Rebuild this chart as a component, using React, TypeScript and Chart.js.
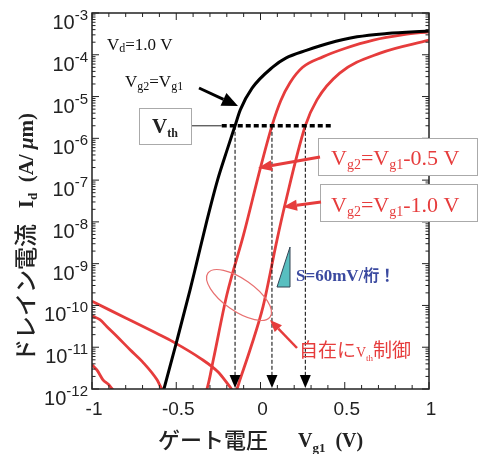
import React, { useEffect, useRef } from "react";
import { Chart, registerables } from "chart.js";

Chart.register(...registerables);

// ---- data: gate voltage Vg1 (V) and log10 of drain current Id (A/um) ----
const blackVg = [-0.6, -0.573, -0.5, -0.418, -0.38, -0.32, -0.255, -0.2, -0.151, -0.12, -0.05, 0.074, 0.15, 0.276, 0.4, 0.573, 0.75, 1.0];
const blackLogId = [-12.4, -12.0, -10.9, -9.63, -9.0, -8.0, -7.0, -6.3, -5.7, -5.32, -4.8, -4.29, -4.08, -3.89, -3.73, -3.57, -3.49, -3.43];

const leakVg = [-1.0, -0.97, -0.935, -0.9, -0.88, -0.8];
const leakLogId = [-11.42, -11.55, -11.78, -11.9, -12.0, -12.4];

const red05Vg = [-1.0, -0.953, -0.911, -0.85, -0.774, -0.7, -0.614, -0.585, -0.45, -0.318, -0.28, -0.2, -0.1, 0.0, 0.068, 0.12, 0.175, 0.25, 0.37, 0.5, 0.67, 0.85, 1.0];
const red05LogId = [-10.25, -10.34, -10.51, -10.75, -11.06, -11.35, -11.78, -12.0, -12.6, -12.0, -11.3, -9.75, -8.3, -6.7, -5.7, -5.1, -4.67, -4.3, -4.05, -3.85, -3.65, -3.52, -3.45];

const red10Vg = [-1.0, -0.8, -0.6, -0.519, -0.359, -0.25, -0.181, -0.16, -0.14, -0.122, -0.062, 0.015, 0.098, 0.145, 0.266, 0.335, 0.47, 0.71, 1.0];
const red10LogId = [-9.9, -10.3, -10.7, -10.87, -11.26, -11.6, -11.95, -12.05, -12.0, -11.78, -11.06, -10.03, -8.43, -7.59, -5.7, -5.08, -4.44, -3.96, -3.65];

const vthValues = [-0.151, 0.068, 0.266];
const vthLogLevel = -5.7;
const vthLineStart = -0.23;
const vthLineEnd = 0.43;

const xTickValues = [-1, -0.5, 0, 0.5, 1];
const xTickLabels = ["-1", "-0.5", "0", "0.5", "1"];
const yTickExponents = [-3, -4, -5, -6, -7, -8, -9, -10, -11, -12];

const RED = "#e63c3c";
const SERIF = '"Liberation Serif", "DejaVu Serif", serif';
const SANS = '"Liberation Sans", Arial, sans-serif';
const CJK = '"Noto Sans CJK JP", sans-serif';

type Seg = { t: string; f: string; dy?: number };

function richWidth(ctx: CanvasRenderingContext2D, segs: Seg[]) {
  let w = 0;
  for (const s of segs) {
    ctx.font = s.f;
    w += ctx.measureText(s.t).width;
  }
  return w;
}

function drawRich(ctx: CanvasRenderingContext2D, segs: Seg[], x: number, y: number, color: string, align = "left") {
  const w = richWidth(ctx, segs);
  let cx = align === "center" ? x - w / 2 : align === "right" ? x - w : x;
  ctx.fillStyle = color;
  ctx.textAlign = "left";
  for (const s of segs) {
    ctx.font = s.f;
    ctx.fillText(s.t, cx, y + (s.dy || 0));
    cx += ctx.measureText(s.t).width;
  }
}

function arrow(ctx: CanvasRenderingContext2D, x1: number, y1: number, x2: number, y2: number, color: string, lw: number, hl: number, hw: number) {
  const a = Math.atan2(y2 - y1, x2 - x1);
  const bx = x2 - hl * Math.cos(a);
  const by = y2 - hl * Math.sin(a);
  ctx.strokeStyle = color;
  ctx.lineWidth = lw;
  ctx.setLineDash([]);
  ctx.beginPath();
  ctx.moveTo(x1, y1);
  ctx.lineTo(bx, by);
  ctx.stroke();
  ctx.fillStyle = color;
  ctx.beginPath();
  ctx.moveTo(x2, y2);
  ctx.lineTo(bx + hw * Math.sin(a), by - hw * Math.cos(a));
  ctx.lineTo(bx - hw * Math.sin(a), by + hw * Math.cos(a));
  ctx.closePath();
  ctx.fill();
}

function toPts(xs: number[], logs: number[]) {
  return xs.map((x, i) => ({ x, y: Math.pow(10, logs[i]) }));
}

export default function App() {
  const ref = useRef<HTMLCanvasElement | null>(null);

  useEffect(() => {
    if (!ref.current) return;

    const decor = {
      id: "decor",
      afterDatasetsDraw(chart: any) {
        const ctx: CanvasRenderingContext2D = chart.ctx;
        const xs = chart.scales.x;
        const ys = chart.scales.y;
        const { left, right, top, bottom } = chart.chartArea;
        const X = (v: number) => xs.getPixelForValue(v);
        const Y = (lg: number) => ys.getPixelForValue(Math.pow(10, lg));
        ctx.save();

        // frame
        ctx.strokeStyle = "#222";
        ctx.lineWidth = 1.5;
        ctx.setLineDash([]);
        ctx.strokeRect(left, top, right - left, bottom - top);

        // x ticks (inward)
        ctx.lineWidth = 1;
        for (let i = -10; i <= 10; i++) {
          const px = X(i / 10);
          const len = i % 5 === 0 ? 7 : 4;
          ctx.beginPath();
          ctx.moveTo(px, bottom);
          ctx.lineTo(px, bottom - len);
          ctx.moveTo(px, top);
          ctx.lineTo(px, top + len);
          ctx.stroke();
        }
        // y ticks (inward, log)
        for (let e = -12; e <= -3; e++) {
          const py = Y(e);
          ctx.beginPath();
          ctx.moveTo(left, py);
          ctx.lineTo(left + 7, py);
          ctx.moveTo(right, py);
          ctx.lineTo(right - 7, py);
          ctx.stroke();
          if (e < -3) {
            for (let m = 2; m <= 9; m++) {
              const pm = ys.getPixelForValue(m * Math.pow(10, e));
              ctx.beginPath();
              ctx.moveTo(left, pm);
              ctx.lineTo(left + 3.5, pm);
              ctx.moveTo(right, pm);
              ctx.lineTo(right - 3.5, pm);
              ctx.stroke();
            }
          }
        }

        // x tick labels
        ctx.fillStyle = "#222";
        ctx.font = `19px ${SANS}`;
        ctx.textAlign = "center";
        ctx.textBaseline = "middle";
        xTickValues.forEach((v, i) => {
          ctx.fillText(xTickLabels[i], X(v) + 2, bottom + 21);
        });
        // y tick labels 10^e
        ctx.textBaseline = "alphabetic";
        yTickExponents.forEach((e) => {
          const py = Y(e);
          drawRich(
            ctx,
            [
              { t: "10", f: `20px ${SANS}`, dy: 16 },
              { t: "-" + String(-e), f: `15px ${SANS}`, dy: 7 },
            ],
            left - 4,
            py,
            "#222",
            "right"
          );
        });

        // axis titles
        drawRich(ctx, [{ t: "ゲート電圧", f: `500 22px ${CJK}` }], 158, 448, "#222");
        drawRich(
          ctx,
          [
            { t: "V", f: `bold 20px ${SERIF}` },
            { t: "g1", f: `bold 13px ${SERIF}`, dy: 5 },
            { t: "  (V)", f: `bold 20px ${SERIF}` },
          ],
          298,
          447,
          "#222"
        );
        ctx.save();
        ctx.translate(34, 362);
        ctx.rotate(-Math.PI / 2);
        drawRich(
          ctx,
          [
            { t: "ドレイン電流", f: `500 23px ${CJK}` },
            { t: "   I", f: `bold 21px ${SERIF}`, dy: -1 },
            { t: "d", f: `bold 13px ${SERIF}`, dy: 3 },
            { t: "  (A/ ", f: `bold 21px ${SERIF}`, dy: -1 },
            { t: "μ", f: `bold italic 21px ${SERIF}`, dy: -1 },
            { t: "m)", f: `bold 21px ${SERIF}`, dy: -1 },
          ],
          0,
          0,
          "#222"
        );
        ctx.restore();

        // Vd label
        drawRich(
          ctx,
          [
            { t: "V", f: `17px ${SERIF}` },
            { t: "d", f: `12px ${SERIF}`, dy: 2 },
            { t: "=1.0 V", f: `17px ${SERIF}` },
          ],
          107,
          50,
          "#111"
        );
        // Vg2=Vg1 label + arrow
        drawRich(
          ctx,
          [
            { t: "V", f: `17px ${SERIF}` },
            { t: "g2", f: `12px ${SERIF}`, dy: 3 },
            { t: "=V", f: `17px ${SERIF}` },
            { t: "g1", f: `12px ${SERIF}`, dy: 3 },
          ],
          125,
          87,
          "#111"
        );
        arrow(ctx, 199, 88, 238, 106, "#000", 3, 16, 7);

        // Vth box
        ctx.strokeStyle = "#aaa";
        ctx.lineWidth = 1;
        ctx.strokeRect(139.5, 108.5, 52, 36);
        drawRich(
          ctx,
          [
            { t: "V", f: `bold 21px ${SERIF}` },
            { t: "th", f: `bold 12px ${SERIF}`, dy: 4 },
          ],
          165,
          133,
          "#222",
          "center"
        );
        const yv = Y(vthLogLevel);
        ctx.strokeStyle = "#222";
        ctx.lineWidth = 1;
        ctx.beginPath();
        ctx.moveTo(192, yv);
        ctx.lineTo(X(vthLineStart), yv);
        ctx.stroke();
        ctx.lineWidth = 3.5;
        ctx.strokeStyle = "#000";
        ctx.setLineDash([5, 3]);
        ctx.beginPath();
        ctx.moveTo(X(vthLineStart), yv);
        ctx.lineTo(X(vthLineEnd), yv);
        ctx.stroke();

        // vertical dashed Vth markers with arrow heads
        ctx.lineWidth = 1;
        ctx.setLineDash([4, 2]);
        vthValues.forEach((v) => {
          const px = X(v);
          ctx.beginPath();
          ctx.moveTo(px, yv);
          ctx.lineTo(px, bottom - 12);
          ctx.stroke();
        });
        ctx.setLineDash([]);
        ctx.fillStyle = "#000";
        vthValues.forEach((v) => {
          const px = X(v);
          ctx.beginPath();
          ctx.moveTo(px - 5.5, bottom - 14);
          ctx.lineTo(px + 5.5, bottom - 14);
          ctx.lineTo(px, bottom - 1);
          ctx.closePath();
          ctx.fill();
        });

        // red legend boxes
        ctx.fillStyle = "#fff";
        ctx.fillRect(318, 138, 160, 38);
        ctx.fillRect(320, 184, 158, 38);
        ctx.strokeStyle = "#aaa";
        ctx.lineWidth = 1;
        ctx.strokeRect(318.5, 138.5, 159, 37);
        ctx.strokeRect(320.5, 184.5, 157, 37);
        const lab = (suffix: string, x: number, y: number) =>
          drawRich(
            ctx,
            [
              { t: "V", f: `22px ${SERIF}` },
              { t: "g2", f: `14px ${SERIF}`, dy: 4 },
              { t: "=V", f: `22px ${SERIF}` },
              { t: "g1", f: `14px ${SERIF}`, dy: 4 },
              { t: suffix, f: `22px ${SERIF}` },
            ],
            x,
            y,
            RED
          );
        lab("-0.5 V", 331, 165);
        lab("-1.0 V", 331, 212);
        arrow(ctx, 320, 157, 258, 168, RED, 3, 14, 5.5);
        arrow(ctx, 321, 202, 283, 207, RED, 3, 14, 5.5);

        // slope triangle
        ctx.fillStyle = "#58bfc0";
        ctx.strokeStyle = "#345";
        ctx.lineWidth = 1;
        ctx.beginPath();
        ctx.moveTo(277, 287);
        ctx.lineTo(290, 247);
        ctx.lineTo(290, 287);
        ctx.closePath();
        ctx.fill();
        ctx.stroke();
        drawRich(
          ctx,
          [
            { t: "S=60mV/", f: `bold 17px ${SERIF}` },
            { t: "桁！", f: `bold 16px ${CJK}` },
          ],
          296,
          281,
          "#3b4aa0"
        );

        // ellipse
        ctx.strokeStyle = "#e87070";
        ctx.lineWidth = 1.2;
        ctx.beginPath();
        ctx.ellipse(239, 295, 38, 16, (35 * Math.PI) / 180, 0, Math.PI * 2);
        ctx.stroke();
        arrow(ctx, 297, 348, 270, 320, RED, 2.5, 12, 5);
        drawRich(
          ctx,
          [
            { t: "自在に", f: `19px ${CJK}` },
            { t: "V", f: `14px ${SERIF}` },
            { t: "th", f: `9px ${SERIF}`, dy: 4 },
            { t: "制御", f: `19px ${CJK}` },
          ],
          299,
          357,
          RED
        );

        ctx.restore();
      },
    };

    const mk = (xs: number[], ls: number[], color: string, w: number) => ({
      data: toPts(xs, ls),
      borderColor: color,
      borderWidth: w,
      pointRadius: 0,
      fill: false,
      cubicInterpolationMode: "monotone" as const,
    });

    const chart = new Chart(ref.current, {
      type: "line",
      data: {
        datasets: [
          mk(blackVg, blackLogId, "#000", 3),
          mk(red05Vg, red05LogId, RED, 2.8),
          mk(red10Vg, red10LogId, RED, 2.8),
          mk(leakVg, leakLogId, RED, 2.8),
        ],
      },
      options: {
        responsive: false,
        animation: false,
        events: [],
        layout: { padding: { left: 0, top: 13, right: 50, bottom: 0 } },
        plugins: { legend: { display: false }, tooltip: { enabled: false } },
        scales: {
          x: {
            type: "linear",
            min: -1,
            max: 1,
            grid: { display: false },
            border: { display: false },
            ticks: { display: false },
            afterFit: (s: any) => {
              s.height = 65;
            },
          },
          y: {
            type: "logarithmic",
            min: 1e-12,
            max: 1e-3,
            grid: { display: false },
            border: { display: false },
            ticks: { display: false },
            afterFit: (s: any) => {
              s.width = 92;
            },
          },
        },
      },
      plugins: [decor],
    });
    return () => chart.destroy();
  }, []);

  return (
    <div style={{ position: "fixed", left: 0, top: 0, width: 479, height: 454, background: "#fff" }}>
      <canvas ref={ref} width={479} height={454} style={{ display: "block" }} />
    </div>
  );
}
